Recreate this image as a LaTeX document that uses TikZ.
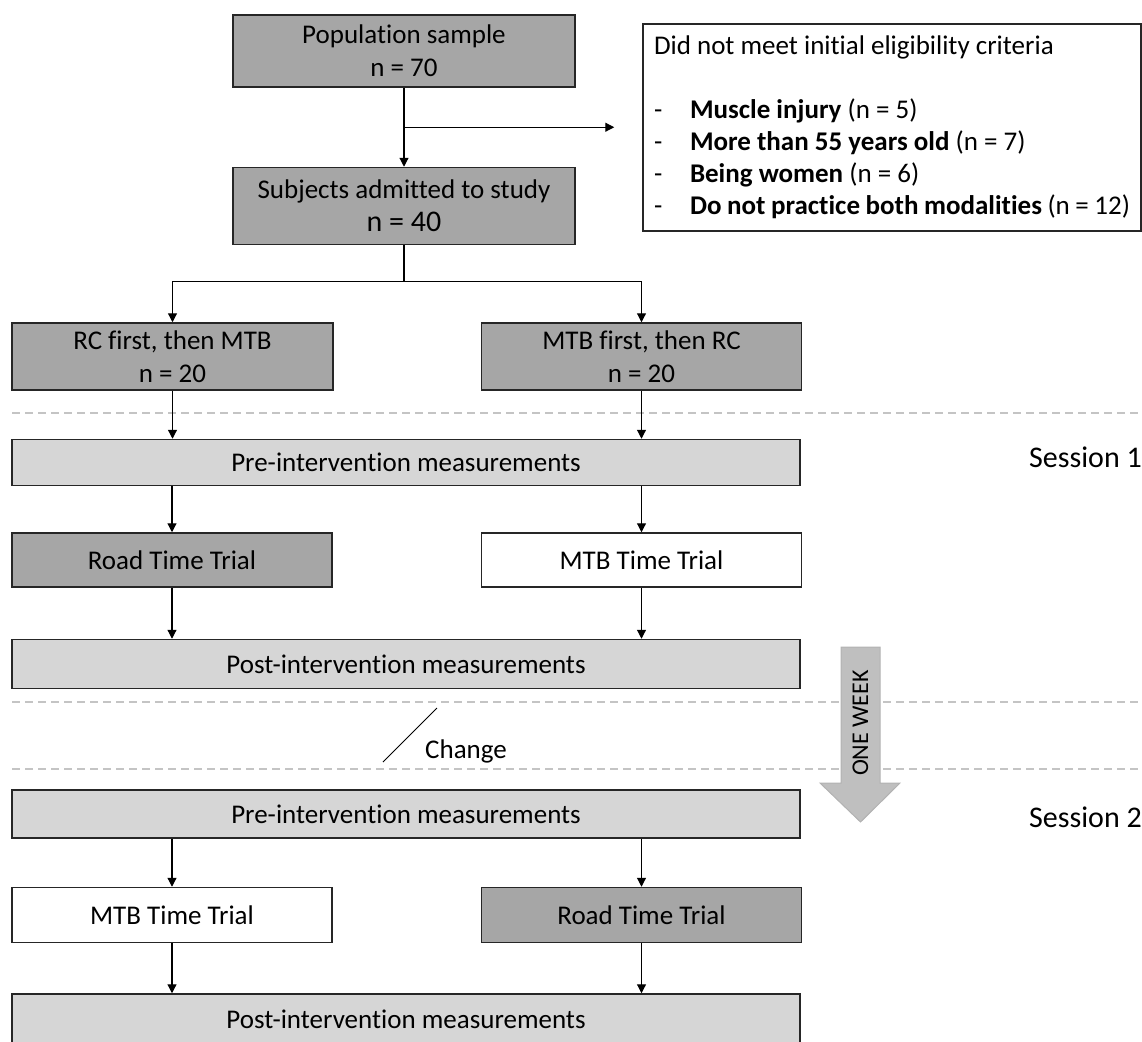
\documentclass[tikz,border=0pt]{standalone}
\usepackage{fontspec}
\setmainfont[Ligatures={NoCommon,NoRare}]{Carlito}
\usepackage{tikz}
\usetikzlibrary{arrows.meta,positioning,calc}
\definecolor{boxdark}{HTML}{A6A6A6}
\definecolor{boxlight}{HTML}{D6D6D6}
\definecolor{weekgray}{HTML}{BFBFBF}
\definecolor{rulegray}{HTML}{C4C4C4}
\newcommand{\excl}[2]{\makebox[36pt][l]{-}\textbf{#1} (#2)}
\tikzset{
  base/.style={
    draw=black!85, line width=1.5pt, inner sep=0pt, align=center,
    font=\fontsize{27}{33}\selectfont
  },
  darkbox/.style={base, fill=boxdark},
  lightbox/.style={base, fill=boxlight, minimum width=788pt},
  whitebox/.style={base, fill=white},
  arrow/.style={-{Triangle[length=9pt,width=9pt]}, line width=1.2pt},
  divider/.style={rulegray, line width=1.5pt, dash pattern=on 8pt off 5pt},
}

\begin{document}
\begin{tikzpicture}[x=1pt, y=1pt]
    \useasboundingbox (0,0) rectangle (1142,-1041);
    % session dividers
    \draw[divider] (12,-413) -- (1142,-413);
    \draw[divider] (12,-702) -- (1142,-702);
    \draw[divider] (12,-769) -- (1142,-769);

    \node[darkbox, minimum width=342pt, minimum height=72pt] (pop) at (404,-51) {Population sample\\n = 70};
    \node[darkbox, minimum width=342pt, minimum height=77pt, below=79pt of pop] (subj) {Subjects admitted to study\\{\fontsize{30}{33}\selectfont n = 40}};
    \node[whitebox, text width=476pt, align=flush left, inner xsep=11pt, minimum height=207pt,
          font=\fontsize{27}{32}\selectfont] (elig) at (892,-127.5)
      {Did not meet initial eligibility criteria\\[32pt]
       \excl{Muscle injury}{n = 5}\\
       \excl{More than 55 years old}{n = 7}\\
       \excl{Being women}{n = 6}\\
       \excl{Do not practice both modalities}{n = 12}};

    \node[darkbox, minimum width=321pt, minimum height=67pt] (rc) at (172.5,-356.5) {RC first, then MTB\\n = 20};
    \node[darkbox, minimum width=320pt, minimum height=67pt, right=147pt of rc] (mtbf) {MTB first, then RC\\n = 20};

    % session 1
    \node[lightbox, minimum height=46pt, below right=48pt and 0pt of rc.south west] (pre1) {Pre-intervention measurements};
    \node[darkbox, minimum width=320pt, minimum height=54pt, below right=46pt and 0pt of pre1.south west] (road1) {Road Time Trial};
    \node[whitebox, minimum width=320pt, minimum height=54pt, right=148pt of road1] (mtb1) {MTB Time Trial};
    \node[lightbox, minimum height=49pt, below right=51pt and 0pt of road1.south west] (post1) {Post-intervention measurements};

    % session 2
    \node[lightbox, minimum height=48pt, below=100pt of post1] (pre2) {Pre-intervention measurements};
    \node[whitebox, minimum width=320pt, minimum height=55pt, below right=48pt and 0pt of pre2.south west] (mtb2) {MTB Time Trial};
    \node[darkbox, minimum width=320pt, minimum height=55pt, right=148pt of mtb2] (road2) {Road Time Trial};
    \node[lightbox, minimum height=50pt, below right=50pt and 0pt of mtb2.south west] (post2) {Post-intervention measurements};

    \node[anchor=east, inner sep=0pt, font=\fontsize{30}{30}\selectfont] (sess1) at (1142,-457) {Session 1};
    \node[anchor=east, inner sep=0pt, font=\fontsize{30}{30}\selectfont] (sess2) at (1142,-817) {Session 2};

    % one week arrow
    \draw[draw=black!30, fill=weekgray, line width=1pt] (841,-647) -- (880,-647) -- (880,-783) -- (900,-783)
      -- (860.5,-822) -- (820,-783) -- (841,-783) -- cycle;
    \node[rotate=90, inner sep=0pt, font=\fontsize{24}{24}\selectfont] (week) at (860.5,-723) {ONE WEEK};

    % change
    \draw[line width=1pt] (383,-762) -- (437,-708);
    \node[anchor=west, inner sep=0pt, font=\fontsize{27}{27}\selectfont] (chg) at (425,-751) {Change};

    % connectors
    \coordinate (fork) at ($(pop.south)!0.5!(subj.north)$);
    \coordinate (split) at ($(subj.south)+(0,-36)$);
    \draw[arrow] (pop) -- (subj);
    \draw[arrow, shorten >=28pt] (fork) -- (fork -| elig.west);
    \draw[line width=1.2pt] (subj) -- (split);
    \draw[arrow] (split) -| (rc);
    \draw[arrow] (split) -| (mtbf);
    \draw[arrow] (rc) -- (rc |- pre1.north);
    \draw[arrow] (mtbf) -- (mtbf |- pre1.north);
    \draw[arrow] (pre1.south -| road1) -- (road1);
    \draw[arrow] (pre1.south -| mtb1) -- (mtb1);
    \draw[arrow] (road1) -- (road1 |- post1.north);
    \draw[arrow] (mtb1) -- (mtb1 |- post1.north);
    \draw[arrow] (pre2.south -| mtb2) -- (mtb2);
    \draw[arrow] (pre2.south -| road2) -- (road2);
    \draw[arrow] (mtb2) -- (mtb2 |- post2.north);
    \draw[arrow] (road2) -- (road2 |- post2.north);
  \end{tikzpicture}
\end{document}
